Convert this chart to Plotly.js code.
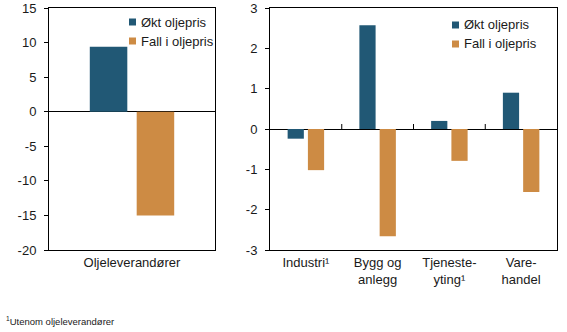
<!DOCTYPE html>
<html>
<head>
<meta charset="utf-8">
<script src="https://cdn.plot.ly/plotly-3.0.1.min.js"></script>
<style>html,body{margin:0;padding:0;background:#fff;}#chart{width:567px;height:332px;}</style>
</head>
<body>
<div id="chart"></div>
<script>
// ---- data ----
const seriesNames = ['Økt oljepris', 'Fall i oljepris'];
const leftCategories = ['Oljeleverandører'];
const leftOkt = [9.4];
const leftFall = [-15.0];
const rightCategories = ['Industri¹', 'Bygg og<br>anlegg', 'Tjeneste-<br>yting¹', 'Vare-<br>handel'];
const rightOkt = [-0.24, 2.57, 0.2, 0.9];
const rightFall = [-1.02, -2.66, -0.79, -1.56];
const leftYTicks = [15, 10, 5, 0, -5, -10, -15, -20];
const rightYTicks = [3, 2, 1, 0, -1, -2, -3];
const footnote = '<sup>1</sup>Utenom oljeleverandører';

// ---- style ----
const colors = ['#215875', '#cd8b44'];
const W = 567, H = 332;
const M = {l: 49, r: 10, t: 8, b: 82};
const PW = W - M.l - M.r, PH = H - M.t - M.b;
const px2x = p => (p - M.l) / PW;
const px2y = p => (H - M.b - p) / PH;
const font = {family: 'Liberation Sans, Arial, sans-serif', size: 13, color: '#1a1a1a'};

const traces = [
  {type: 'bar', x: leftCategories, y: leftOkt, name: seriesNames[0], marker: {color: colors[0]}, xaxis: 'x', yaxis: 'y', showlegend: false, hoverinfo: 'none'},
  {type: 'bar', x: leftCategories, y: leftFall, name: seriesNames[1], marker: {color: colors[1]}, xaxis: 'x', yaxis: 'y', showlegend: false, hoverinfo: 'none'},
  {type: 'bar', x: rightCategories, y: rightOkt, name: seriesNames[0], marker: {color: colors[0]}, xaxis: 'x2', yaxis: 'y2', showlegend: false, hoverinfo: 'none'},
  {type: 'bar', x: rightCategories, y: rightFall, name: seriesNames[1], marker: {color: colors[1]}, xaxis: 'x2', yaxis: 'y2', showlegend: false, hoverinfo: 'none'}
];

const axBase = {showline: true, mirror: true, linecolor: '#000', linewidth: 1, showgrid: false, tickfont: font, fixedrange: true};
const hyphenLabels = vals => vals.map(v => String(v).replace('\u2212', '-'));

// legend (manual) positions in px
const legends = [{x: 129, ys: [22, 41]}, {x: 452, ys: [25, 44]}];
const shapes = [], annotations = [];
legends.forEach(lg => {
  seriesNames.forEach((nm, i) => {
    const cy = lg.ys[i];
    shapes.push({type: 'rect', xref: 'paper', yref: 'paper', x0: px2x(lg.x), x1: px2x(lg.x + 7), y0: px2y(cy + 3.5), y1: px2y(cy - 3.5), fillcolor: colors[i], line: {width: 0}});
    annotations.push({xref: 'paper', yref: 'paper', x: px2x(lg.x + 9.5), y: px2y(cy), xanchor: 'left', yanchor: 'middle', text: nm, showarrow: false, font: font});
  });
});
// category separator ticks on zero line of right panel
for (let i = 0; i < rightCategories.length - 1; i++) {
  shapes.push({type: 'line', xref: 'x2', yref: 'y2', x0: i + 0.5, x1: i + 0.5, ysizemode: 'pixel', yanchor: 0, y0: 0, y1: 5, line: {color: '#000', width: 1}});
}
annotations.push({xref: 'paper', yref: 'paper', x: px2x(4), y: px2y(321), xanchor: 'left', yanchor: 'middle', text: footnote, showarrow: false, font: {family: font.family, size: 9.5, color: '#1a1a1a'}});

const layout = {
  width: W, height: H,
  margin: M,
  paper_bgcolor: '#fff', plot_bgcolor: '#fff',
  font: font,
  showlegend: false,
  barmode: 'group', bargap: 0.435, bargroupgap: 0.2,
  xaxis: Object.assign({}, axBase, {domain: [0, px2x(215)], ticks: '', type: 'category', anchor: 'y'}),
  yaxis: Object.assign({}, axBase, {range: [-20, 15], tickvals: leftYTicks, ticktext: hyphenLabels(leftYTicks), ticks: 'outside', ticklen: 4, tickcolor: '#000', ticklabelstandoff: 5, zeroline: true, zerolinecolor: '#000', zerolinewidth: 1, anchor: 'x'}),
  xaxis2: Object.assign({}, axBase, {domain: [px2x(270), 1], ticks: '', type: 'category', anchor: 'y2'}),
  yaxis2: Object.assign({}, axBase, {range: [-3, 3], tickvals: rightYTicks, ticktext: hyphenLabels(rightYTicks), ticks: 'outside', ticklen: 4, tickcolor: '#000', ticklabelstandoff: 5, zeroline: true, zerolinecolor: '#000', zerolinewidth: 1, anchor: 'x2'}),
  shapes: shapes,
  annotations: annotations
};

Plotly.newPlot('chart', traces, layout, {staticPlot: true, displayModeBar: false});
</script>
</body>
</html>
